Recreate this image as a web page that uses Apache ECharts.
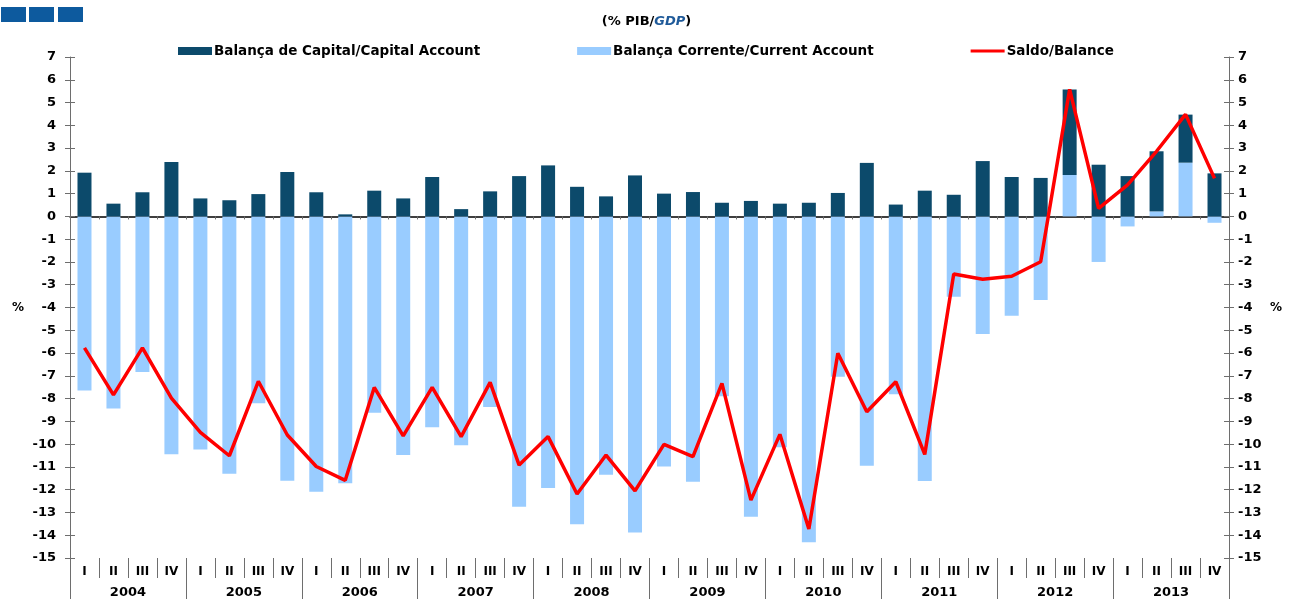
<!DOCTYPE html>
<html lang="pt">
<head>
    <meta charset="UTF-8">
    <title>Balança de Capital e Corrente</title>
    <script type="text/javascript" src="https://fastly.jsdelivr.net/npm/echarts@6.0.0/dist/echarts.min.js"></script>
</head>
<body style="margin:0">
<div id="chart" style="width:1293px;height:599px"></div>
<script type="text/javascript">
    var years = ['2004', '2005', '2006', '2007', '2008', '2009', '2010', '2011', '2012', '2013'];
    var quarterNames = ['I', 'II', 'III', 'IV'];

    // % of GDP, 2004 Q1 .. 2013 Q4
    var capitalAccount = [1.92, 0.56, 1.06, 2.39, 0.79, 0.71, 0.98, 1.95, 1.06, 0.09,
                          1.13, 0.79, 1.73, 0.32, 1.10, 1.77, 2.24, 1.30, 0.88, 1.80,
                          1.00, 1.07, 0.60, 0.68, 0.56, 0.60, 1.03, 2.35, 0.52, 1.13,
                          0.95, 2.43, 1.73, 1.69, 3.75, 2.27, 1.77, 2.64, 2.11, 1.89];
    var currentAccount = [-7.65, -8.44, -6.83, -10.44, -10.24, -11.30, -8.21, -11.61, -12.09, -11.72,
                          -8.62, -10.48, -9.26, -10.05, -8.37, -12.75, -11.93, -13.52, -11.34, -13.88,
                          -10.98, -11.65, -7.90, -13.19, -10.14, -14.31, -7.04, -10.95, -7.81, -11.62,
                          -3.53, -5.16, -4.36, -3.67, 1.82, -2.00, -0.44, 0.22, 2.36, -0.28];
    var balance = [-5.77, -7.84, -5.77, -7.98, -9.48, -10.51, -7.24, -9.60, -10.98, -11.59,
                   -7.51, -9.64, -7.51, -9.67, -7.29, -10.92, -9.67, -12.19, -10.48, -12.05,
                   -10.01, -10.55, -7.33, -12.46, -9.57, -13.73, -6.01, -8.58, -7.26, -10.45,
                   -2.53, -2.76, -2.63, -1.99, 5.58, 0.35, 1.38, 2.86, 4.48, 1.67];

    var quarters = [];
    years.forEach(function (y) {
        quarterNames.forEach(function (q) { quarters.push(q); });
    });
    var catIds = quarters.map(function (q, i) { return String(i); });

    var FONT = 'DejaVu Sans';
    var axisGray = '#6e6e6e';

    var chart = echarts.init(document.getElementById('chart'));

    function yAx(pos, inside, labels) {
        return {
            type: 'value',
            position: pos,
            min: -15,
            max: 7,
            interval: 1,
            name: labels ? '%' : '',
            nameLocation: 'middle',
            nameRotate: 0,
            nameGap: pos === 'left' ? 46 : 41,
            nameTextStyle: { color: '#000', fontWeight: 'bold', fontSize: 12, fontFamily: FONT, padding: [0, 0, 16, 0] },
            axisLine: { show: labels, lineStyle: { color: axisGray, width: 1 } },
            axisTick: { show: true, inside: inside, length: 5, lineStyle: { color: axisGray } },
            axisLabel: {
                show: labels,
                margin: pos === 'left' ? 14 : 9,
                color: '#000',
                fontWeight: 'bold',
                fontSize: 13,
                fontFamily: FONT
            },
            splitLine: { show: false }
        };
    }

    var option = {
        animation: false,
        textStyle: { fontFamily: FONT },
        title: {
            left: 'center',
            top: 10,
            text: '{a|(% PIB/}{b|GDP}{a|)}',
            textStyle: {
                rich: {
                    a: { fontSize: 13, fontWeight: 'bold', color: '#000', fontFamily: FONT },
                    b: { fontSize: 13, fontWeight: 'bold', fontStyle: 'italic', color: '#1f5a99', fontFamily: FONT }
                }
            }
        },
        graphic: [
            { type: 'rect', left: 1, top: 7, shape: { width: 25, height: 15 }, style: { fill: '#0d5a9e' } },
            { type: 'rect', left: 29, top: 7, shape: { width: 25, height: 15 }, style: { fill: '#0d5a9e' } },
            { type: 'rect', left: 58, top: 7, shape: { width: 25, height: 15 }, style: { fill: '#0d5a9e' } }
        ],
        legend: {
            left: 173,
            top: 39,
            itemWidth: 34,
            itemHeight: 8,
            itemGap: 97,
            textStyle: { color: '#000', fontWeight: 'bold', fontSize: 13.5, fontFamily: FONT, padding: [0, 0, 0, -3] },
            data: [
                { name: 'Balança de Capital/Capital Account', icon: 'rect' },
                { name: 'Balança Corrente/Current Account', icon: 'rect' },
                { name: 'Saldo/Balance', icon: 'path://M0,0L34,0L34,3L0,3Z', itemStyle: { color: '#ff0000' } }
            ]
        },
        grid: {
            left: 70,
            right: 64,
            top: 57,
            bottom: 41
        },
        xAxis: [
            {
                type: 'category',
                data: catIds,
                position: 'bottom',
                axisLine: { onZero: true, lineStyle: { color: '#000', width: 1.5 } },
                axisTick: { show: true, length: 3, lineStyle: { color: axisGray } },
                axisLabel: { show: false }
            },
            {
                type: 'category',
                data: quarters,
                position: 'bottom',
                axisLine: { show: false, onZero: false },
                axisTick: { show: true, interval: 0, length: 20, lineStyle: { color: axisGray } },
                axisLabel: {
                    interval: 0,
                    margin: 8,
                    color: '#000',
                    fontWeight: 'bold',
                    fontSize: 12,
                    fontFamily: FONT
                }
            },
            {
                type: 'category',
                data: years,
                position: 'bottom',
                axisLine: { show: false, onZero: false },
                axisTick: { show: true, interval: 0, length: 41, lineStyle: { color: axisGray } },
                axisLabel: {
                    interval: 0,
                    margin: 28,
                    color: '#000',
                    fontWeight: 'bold',
                    fontSize: 13,
                    fontFamily: FONT
                }
            }
        ],
        yAxis: [
            yAx('left', false, true),
            yAx('right', false, true),
            yAx('left', true, false),
            yAx('right', true, false)
        ],
        series: [
            {
                name: 'Balança Corrente/Current Account',
                type: 'bar',
                stack: 'bp',
                barWidth: 14,
                itemStyle: { color: '#99ccff' },
                data: currentAccount
            },
            {
                name: 'Balança de Capital/Capital Account',
                type: 'bar',
                stack: 'bp',
                barWidth: 14,
                itemStyle: { color: '#0c4a6b' },
                data: capitalAccount
            },
            {
                name: 'Saldo/Balance',
                type: 'line',
                symbol: 'none',
                z: 5,
                lineStyle: { color: '#ff0000', width: 3.5 },
                itemStyle: { color: '#ff0000' },
                data: balance
            }
        ]
    };

    chart.setOption(option);
</script>
</body>
</html>
